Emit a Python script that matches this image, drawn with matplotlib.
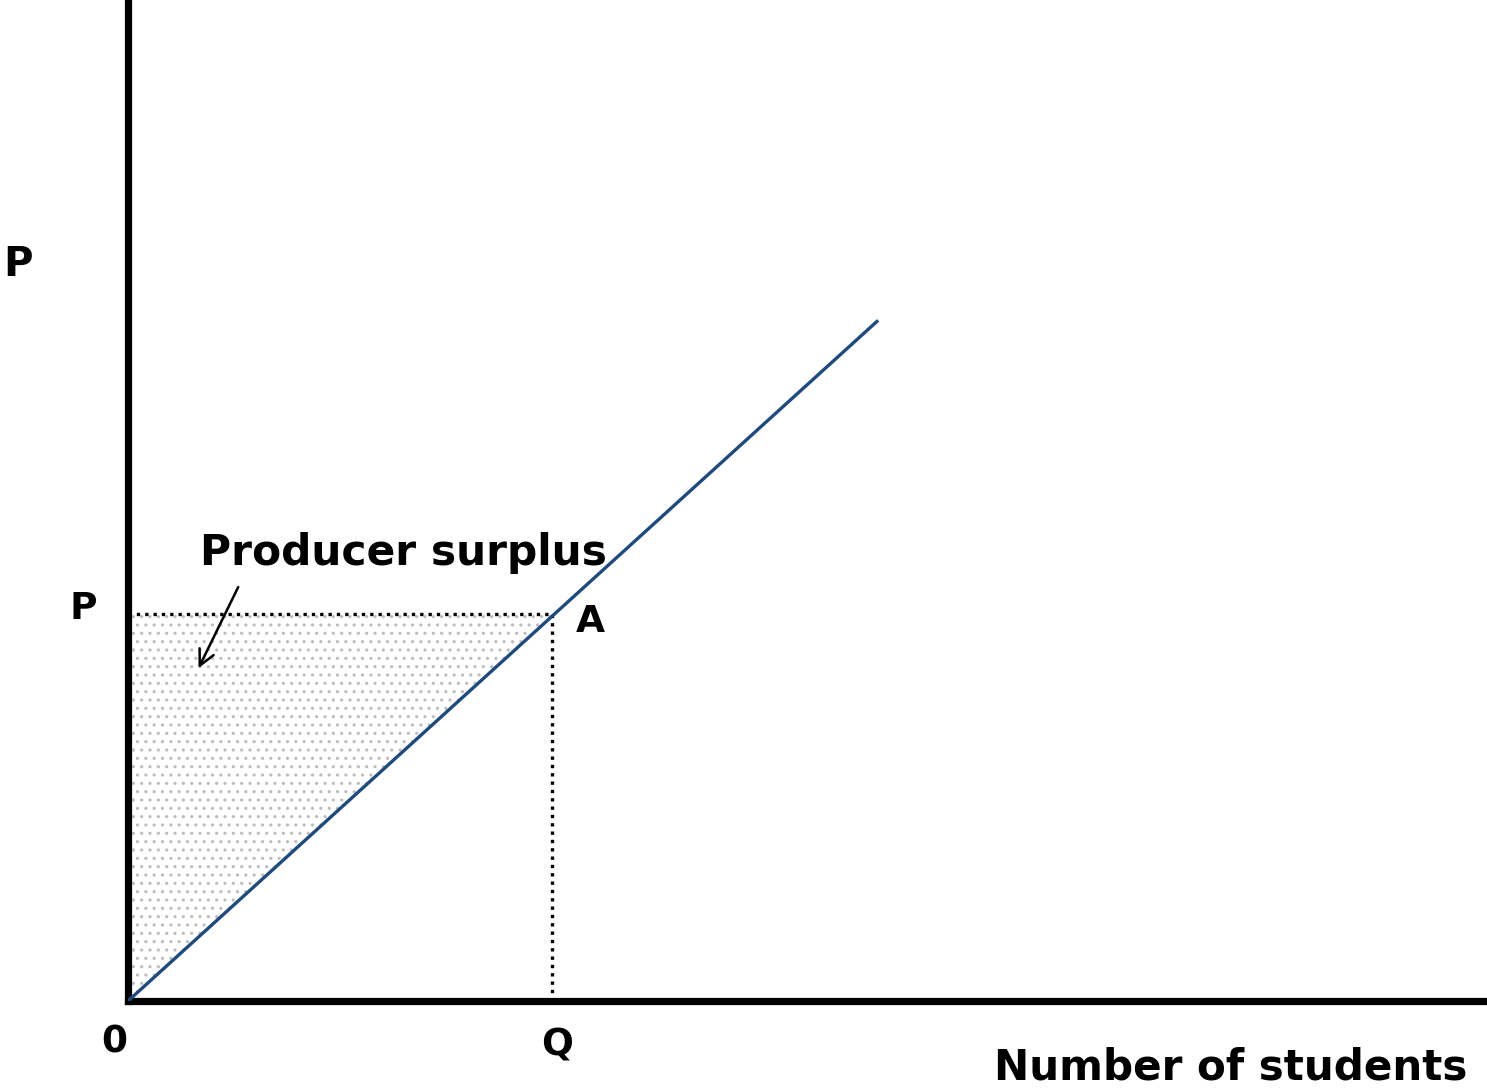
import matplotlib
matplotlib.use("Agg")
import matplotlib.pyplot as plt

# Data (economic units; axes span 0..10 in both directions)
supply_x = [0.0, 5.52]
supply_y = [0.0, 6.80]
Q_val = 3.12
P_val = 3.87

plt.rcParams['hatch.linewidth'] = 1.1
plt.rcParams['hatch.color'] = '#bdbdbd'

fig = plt.figure(figsize=(14.87, 10.90), dpi=100)
ax = fig.add_axes([128/1487, 89/1090, 1359/1487, 1001/1090])
ax.set_xlim(0, 10)
ax.set_ylim(0, 10)
ax.set_xticks([])
ax.set_yticks([])
for s in ['top', 'right']:
    ax.spines[s].set_visible(False)
ax.spines['left'].set_linewidth(5.2)
ax.spines['bottom'].set_linewidth(5.2)

# shaded producer surplus triangle
ax.fill([0, 0, Q_val], [0, P_val, P_val], facecolor='white', edgecolor='#bdbdbd',
        hatch='..', linewidth=0, zorder=1)

# dotted guide lines
ax.plot([0, Q_val], [P_val, P_val], color='black', linestyle=(0, (1, 1.5)), linewidth=2.4, zorder=2)
ax.plot([Q_val, Q_val], [0, P_val], color='black', linestyle=(0, (1, 1.5)), linewidth=2.4, zorder=2)

# supply line
ax.plot(supply_x, supply_y, color='#1F4A7C', linewidth=2.4, zorder=3, solid_capstyle='butt')

fp = dict(family='DejaVu Sans', fontweight='bold', color='black')
# labels
fig.text(18/1487, 1 - 265/1090, 'P', ha='center', va='center', fontsize=29, **fp)
ax.text(-0.33, P_val + 0.05, 'P', ha='center', va='center', fontsize=27, **fp)
ax.text(Q_val + 0.28, P_val - 0.08, 'A', ha='center', va='center', fontsize=27, **fp)
ax.text(-0.10, -0.41, '0', ha='center', va='center', fontsize=27, **fp)
ax.text(Q_val + 0.04, -0.44, 'Q', ha='center', va='center', fontsize=27, **fp)
ax.text(0.53, 4.48, 'Producer surplus', ha='left', va='center', fontsize=30.5, **fp)
fig.text(1231/1487, 1 - 1067/1090, 'Number of students', ha='center', va='center', fontsize=30.3, **fp)

# arrow
ax.annotate('', xy=(0.51, 3.30), xytext=(0.82, 4.16),
            arrowprops=dict(arrowstyle='->', color='black', lw=1.8, mutation_scale=28),
            annotation_clip=False)

fig.savefig('out.png', dpi=100)
